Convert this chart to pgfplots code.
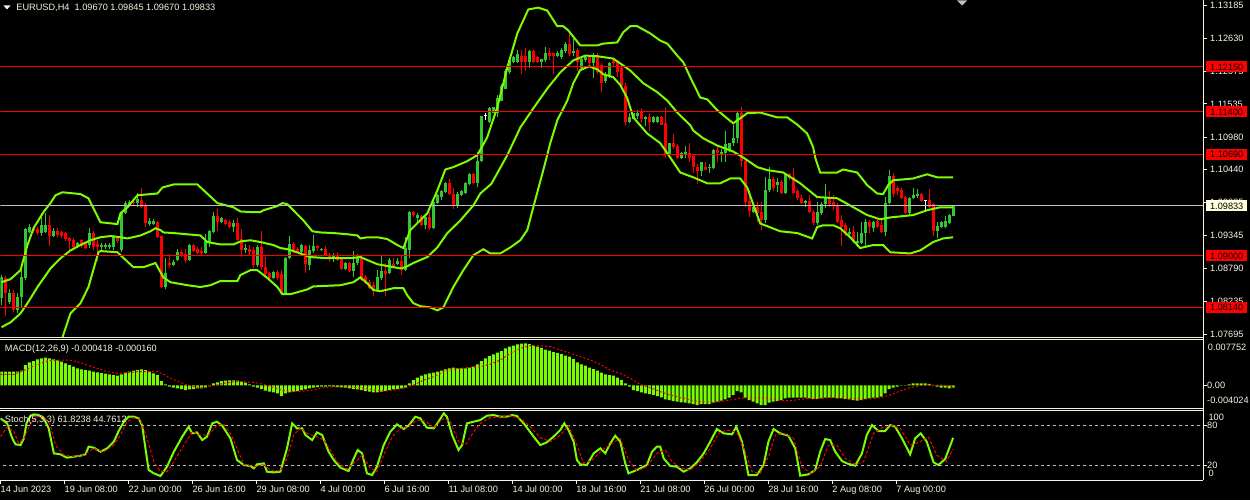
\documentclass[border=0pt]{standalone}
\usepackage{fontspec}
\setmainfont{Liberation Sans}
\usepackage{pgfplots}
\usepackage{pgfplotstable}
\pgfplotsset{compat=1.18}
\definecolor{cream}{RGB}{245,245,225}
\definecolor{upg}{RGB}{50,200,50}
\definecolor{lime}{RGB}{124,252,0}
\definecolor{gry}{RGB}{192,192,192}
\definecolor{ivory}{RGB}{255,255,224}
\newcommand\tf{\fontsize{9.2bp}{10bp}\selectfont}

\pgfplotstableread{
i t o h l c
0 1 1.0829 1.0868 1.0818 1.0864
1 -1 1.0863 1.0866 1.0799 1.0838
2 1 1.0823 1.0844 1.0819 1.0838
3 -1 1.0838 1.0843 1.0806 1.0809
4 1 1.0809 1.0838 1.0804 1.0831
5 1 1.0831 1.0881 1.0814 1.0864
6 1 1.0863 1.0946 1.0859 1.0944
7 1 1.0939 1.0953 1.0938 1.0948
8 -1 1.0946 1.0948 1.0938 1.0941
9 -1 1.0944 1.0948 1.0934 1.0938
10 1 1.0938 1.0971 1.0933 1.0951
11 1 1.0939 1.0971 1.0938 1.0951
12 -1 1.0951 1.0968 1.0916 1.0933
13 1 1.0933 1.0946 1.0931 1.0941
14 -1 1.0941 1.0946 1.0931 1.0934
15 -1 1.0939 1.0941 1.0929 1.0933
16 -1 1.0938 1.0939 1.0924 1.0928
17 -1 1.0929 1.0931 1.0906 1.0924
18 -1 1.0926 1.0929 1.0911 1.0914
19 1 1.0914 1.0923 1.0913 1.0921
20 -1 1.0926 1.0928 1.0913 1.0916
21 -1 1.0921 1.0923 1.0911 1.0913
22 1 1.0918 1.0946 1.0913 1.0938
23 -1 1.0938 1.0941 1.0909 1.0914
24 -1 1.0919 1.0926 1.0891 1.0914
25 1 1.0914 1.0921 1.0909 1.0918
26 1 1.0914 1.0921 1.0911 1.0918
27 1 1.0914 1.0921 1.0911 1.0918
28 1 1.0914 1.0934 1.0909 1.0933
29 -1 1.0929 1.0933 1.0921 1.0924
30 1 1.0909 1.0974 1.0907 1.0971
31 1 1.0971 1.0991 1.0969 1.0988
32 1 1.0984 1.0993 1.0981 1.0989
33 -1 1.0989 1.0991 1.0984 1.0988
34 1 1.0988 1.1004 1.0981 1.0994
35 -1 1.0993 1.1013 1.0979 1.0981
36 -1 1.0984 1.0988 1.0948 1.0954
37 1 1.0953 1.0963 1.0949 1.0958
38 1 1.0953 1.0961 1.0951 1.0958
39 -1 1.0956 1.0958 1.0929 1.0931
40 -1 1.0933 1.0934 1.0846 1.0848
41 1 1.0848 1.0896 1.0844 1.0871
42 -1 1.0888 1.0903 1.0879 1.0884
43 1 1.0884 1.0893 1.0883 1.0889
44 1 1.0893 1.0911 1.0891 1.0906
45 -1 1.0906 1.0909 1.0898 1.0899
46 -1 1.0903 1.0911 1.0888 1.0893
47 1 1.0893 1.0919 1.0891 1.0918
48 -1 1.0918 1.0919 1.0906 1.0908
49 -1 1.0911 1.0914 1.0903 1.0904
50 -1 1.0908 1.0914 1.0901 1.0904
51 1 1.0904 1.0936 1.0903 1.0924
52 1 1.0923 1.0943 1.0914 1.0941
53 1 1.0939 1.0973 1.0938 1.0966
54 -1 1.0966 1.0978 1.0941 1.0956
55 1 1.0956 1.0964 1.0954 1.0963
56 -1 1.0959 1.0961 1.0951 1.0953
57 -1 1.0956 1.0959 1.0946 1.0948
58 1 1.0948 1.0959 1.0939 1.0954
59 -1 1.0954 1.0963 1.0924 1.0926
60 -1 1.0928 1.0944 1.0898 1.0909
61 1 1.0909 1.0919 1.0904 1.0913
62 -1 1.0911 1.0918 1.0901 1.0906
63 -1 1.0909 1.0914 1.0879 1.0884
64 1 1.0884 1.0918 1.0881 1.0914
65 -1 1.0914 1.0941 1.0876 1.0881
66 -1 1.0881 1.0898 1.0863 1.0869
67 -1 1.0871 1.0873 1.0862 1.0863
68 1 1.0863 1.0874 1.0861 1.0873
69 -1 1.0873 1.0876 1.0859 1.0863
70 -1 1.0869 1.0876 1.0834 1.0836
71 1 1.0836 1.0898 1.0834 1.0896
72 1 1.0896 1.0933 1.0894 1.0919
73 -1 1.0919 1.0923 1.0904 1.0906
74 -1 1.0911 1.0914 1.0904 1.0906
75 1 1.0906 1.0919 1.0904 1.0918
76 -1 1.0916 1.0918 1.0871 1.0886
77 1 1.0884 1.0918 1.0876 1.0909
78 1 1.0908 1.0934 1.0904 1.0916
79 -1 1.0916 1.0918 1.0908 1.0913
80 1 1.0909 1.0913 1.0908 1.0911
81 -1 1.0911 1.0916 1.0899 1.0901
82 -1 1.0901 1.0904 1.0889 1.0894
83 1 1.0894 1.0904 1.0889 1.0899
84 -1 1.0899 1.0906 1.0891 1.0893
85 -1 1.0896 1.0898 1.0876 1.0878
86 1 1.0878 1.0889 1.0876 1.0888
87 -1 1.0888 1.0889 1.0873 1.0874
88 1 1.0874 1.0908 1.0864 1.0888
89 1 1.0888 1.0903 1.0884 1.0896
90 -1 1.0898 1.0899 1.0858 1.0859
91 -1 1.0864 1.0868 1.0853 1.0854
92 -1 1.0856 1.0859 1.0845 1.0846
93 -1 1.0851 1.0856 1.0833 1.0841
94 1 1.0841 1.0876 1.0839 1.0864
95 1 1.0863 1.0901 1.0859 1.0874
96 -1 1.0874 1.0888 1.0833 1.0869
97 1 1.0871 1.0896 1.0869 1.0893
98 -1 1.0886 1.0896 1.0881 1.0883
99 1 1.0886 1.0896 1.0884 1.0891
100 -1 1.0891 1.0899 1.0868 1.0876
101 1 1.0876 1.0931 1.0874 1.0913
102 1 1.0909 1.0975 1.0896 1.0973
103 -1 1.0973 1.0974 1.0964 1.0968
104 1 1.0963 1.0971 1.0956 1.0968
105 -1 1.0966 1.0968 1.0949 1.0951
106 1 1.0951 1.0968 1.0944 1.0964
107 -1 1.0964 1.0973 1.0943 1.0946
108 1 1.0946 1.0991 1.0944 1.0989
109 1 1.0988 1.1003 1.0986 1.1001
110 1 1.0998 1.1009 1.0993 1.1008
111 1 1.1006 1.1023 1.1004 1.1021
112 -1 1.1021 1.1028 1.1001 1.1003
113 -1 1.1003 1.1013 1.0978 1.0983
114 1 1.0983 1.1006 1.0979 1.1003
115 1 1.1001 1.1009 1.0999 1.1008
116 1 1.1004 1.1023 1.1003 1.1021
117 1 1.1019 1.1038 1.1018 1.1036
118 -1 1.1036 1.1038 1.1019 1.1021
119 1 1.1021 1.1073 1.1014 1.1059
120 1 1.1058 1.1134 1.1056 1.1133
121 0 1.1133 1.1138 1.1126 1.1134
122 1 1.1123 1.1148 1.1121 1.1146
123 1 1.1139 1.1149 1.1138 1.1148
124 1 1.1139 1.1168 1.1131 1.1164
125 1 1.1159 1.1186 1.1158 1.1184
126 1 1.1179 1.1211 1.1178 1.1209
127 1 1.1206 1.1228 1.1204 1.1226
128 1 1.1223 1.1233 1.1221 1.1231
129 1 1.1223 1.1244 1.1221 1.1236
130 -1 1.1234 1.1244 1.1204 1.1223
131 -1 1.1233 1.1246 1.1209 1.1224
132 1 1.1223 1.1244 1.1214 1.1241
133 -1 1.1241 1.1243 1.1221 1.1223
134 -1 1.1231 1.1233 1.1221 1.1223
135 1 1.1224 1.1229 1.1214 1.1228
136 1 1.1226 1.1249 1.1223 1.1238
137 -1 1.1239 1.1246 1.1226 1.1234
138 -1 1.1238 1.1239 1.1204 1.1233
139 1 1.1233 1.1241 1.1231 1.1239
140 1 1.1231 1.1246 1.1229 1.1244
141 1 1.1241 1.1256 1.1239 1.1254
142 -1 1.1254 1.1276 1.1234 1.1236
143 1 1.1238 1.1261 1.1234 1.1241
144 -1 1.1244 1.1246 1.1208 1.1223
145 1 1.1213 1.1231 1.1209 1.1229
146 1 1.1226 1.1233 1.1224 1.1231
147 -1 1.1231 1.1234 1.1216 1.1221
148 1 1.1221 1.1238 1.1196 1.1231
149 -1 1.1233 1.1239 1.1204 1.1206
150 -1 1.1218 1.1221 1.1173 1.1189
151 1 1.1191 1.1206 1.1189 1.1204
152 1 1.1198 1.1223 1.1196 1.1221
153 -1 1.1226 1.1229 1.1216 1.1221
154 -1 1.1223 1.1226 1.1198 1.1206
155 -1 1.1214 1.1218 1.1181 1.1183
156 -1 1.1183 1.1189 1.1118 1.1123
157 1 1.1123 1.1138 1.1121 1.1131
158 1 1.1129 1.1139 1.1128 1.1138
159 1 1.1134 1.1143 1.1129 1.1139
160 -1 1.1141 1.1146 1.1121 1.1128
161 1 1.1129 1.1134 1.1116 1.1131
162 -1 1.1131 1.1138 1.1109 1.1123
163 1 1.1123 1.1133 1.1121 1.1131
164 1 1.1123 1.1134 1.1121 1.1131
165 -1 1.1131 1.1133 1.1118 1.1119
166 -1 1.1121 1.1148 1.1064 1.1068
167 1 1.1068 1.1089 1.1066 1.1088
168 -1 1.1088 1.1104 1.1079 1.1081
169 -1 1.1083 1.1086 1.1061 1.1063
170 1 1.1063 1.1073 1.1061 1.1071
171 1 1.1068 1.1083 1.1064 1.1073
172 -1 1.1071 1.1088 1.1056 1.1064
173 -1 1.1066 1.1068 1.1038 1.1048
174 -1 1.1049 1.1054 1.1019 1.1041
175 1 1.1041 1.1057 1.1034 1.1056
176 -1 1.1049 1.1056 1.1043 1.1044
177 1 1.1046 1.1054 1.1038 1.1048
178 1 1.1046 1.1079 1.1045 1.1076
179 -1 1.1076 1.1084 1.1056 1.1071
180 1 1.1069 1.1079 1.1056 1.1073
181 1 1.1071 1.1108 1.1056 1.1086
182 1 1.1076 1.1089 1.1073 1.1088
183 1 1.1088 1.1118 1.1084 1.1096
184 1 1.1096 1.1141 1.1088 1.1139
185 -1 1.1139 1.1149 1.1048 1.1059
186 -1 1.1059 1.1063 1.0981 1.0989
187 -1 1.0991 1.1009 1.0964 1.0974
188 1 1.0973 1.0984 1.0971 1.0981
189 -1 1.0981 1.0989 1.0956 1.0971
190 -1 1.0973 1.0989 1.0943 1.0959
191 1 1.0959 1.1031 1.0954 1.1009
192 1 1.1009 1.1048 1.1006 1.1028
193 -1 1.1028 1.1031 1.1008 1.1013
194 1 1.1018 1.1029 1.1006 1.1023
195 -1 1.1023 1.1026 1.1003 1.1004
196 1 1.1004 1.1038 1.1003 1.1036
197 -1 1.1036 1.1039 1.1026 1.1029
198 -1 1.1031 1.1046 1.1003 1.1004
199 -1 1.1008 1.1011 1.0993 1.0996
200 -1 1.0996 1.1001 1.0986 1.0988
201 1 1.0988 1.0993 1.0981 1.0991
202 -1 1.0991 1.1001 1.0971 1.0973
203 -1 1.0973 1.0976 1.0951 1.0954
204 1 1.0954 1.0989 1.0952 1.0973
205 1 1.0971 1.0989 1.0968 1.0986
206 1 1.0986 1.1019 1.0979 1.0998
207 -1 1.0998 1.1008 1.0981 1.0986
208 -1 1.0989 1.1001 1.0976 1.0983
209 -1 1.0984 1.0988 1.0954 1.0956
210 -1 1.0959 1.0968 1.0916 1.0948
211 -1 1.0951 1.0954 1.0933 1.0936
212 1 1.0936 1.0946 1.0931 1.0939
213 -1 1.0939 1.0949 1.0921 1.0923
214 1 1.0921 1.0939 1.0914 1.0924
215 1 1.0921 1.0956 1.0919 1.0938
216 1 1.0938 1.0961 1.0914 1.0956
217 -1 1.0956 1.0959 1.0938 1.0948
218 1 1.0946 1.0958 1.0939 1.0956
219 -1 1.0958 1.0961 1.0946 1.0948
220 -1 1.0951 1.0959 1.0938 1.0939
221 1 1.0939 1.0998 1.0933 1.0988
222 1 1.0988 1.1043 1.0986 1.1034
223 -1 1.1034 1.1038 1.0998 1.1003
224 -1 1.1013 1.1016 1.1001 1.1008
225 -1 1.1009 1.1013 1.0994 1.0996
226 -1 1.0998 1.0999 1.0969 1.0971
227 1 1.0971 1.0998 1.0968 1.0996
228 1 1.0996 1.1013 1.0994 1.1001
229 1 1.0999 1.1011 1.0996 1.1003
230 -1 1.1003 1.1004 1.0989 1.0991
231 0 1.0991 1.0993 1.0974 1.0992
232 -1 1.0993 1.1011 1.0979 1.0981
233 -1 1.0986 1.0988 1.0933 1.0941
234 1 1.0941 1.0956 1.0929 1.0949
235 1 1.0948 1.0958 1.0946 1.0956
236 1 1.0948 1.0966 1.0946 1.0958
237 1 1.0954 1.0969 1.0953 1.0968
238 1 1.0967 1.09845 1.0967 1.09833
}\candles

\pgfplotsset{
  mt/.style={scale only axis, width=1203bp, xmin=-0.25, xmax=300.5,
    axis y line*=right, axis line style={draw=none},
    scaled y ticks=false, scaled x ticks=false,
    tick align=outside, major tick length=4bp,
    tick style={draw=cream, line width=0.8bp},
    yticklabel style={font=\tf, text=cream, inner sep=0pt, anchor=west},
    clip=true},
  wick/.style={draw=none, mark=none},
}

\begin{document}
\begin{tikzpicture}
\fill[black] (0bp,0bp) rectangle (1250bp,-500bp);

% ---------------- price panel ----------------
\begin{axis}[mt, axis x line=none, at={(0bp,0bp)}, anchor=north west, height=337bp,
  ymin=1.07640, ymax=1.13259,
  yticklabel style={xshift=3bp},
  ytick={1.13185,1.12630,1.12075,1.11535,1.10980,1.10440,1.09885,1.09345,1.08790,1.08235,1.07695},
  yticklabels={1.13185,1.12630,1.12075,1.11535,1.10980,1.10440,1.09885,1.09345,1.08790,1.08235,1.07695}]
% wicks
\addplot[wick, restrict expr to domain={\thisrow{t}}{0.5:1.5},
  error bars/.cd, y dir=plus, y explicit, error mark=none,
  error bar style={draw=upg, line width=1bp}]
  table[x=i, y=l, y error expr=\thisrow{h}-\thisrow{l}] {\candles};
\addplot[wick, restrict expr to domain={\thisrow{t}}{-1.5:-0.5},
  error bars/.cd, y dir=plus, y explicit, error mark=none,
  error bar style={draw=red, line width=1bp}]
  table[x=i, y=l, y error expr=\thisrow{h}-\thisrow{l}] {\candles};
\addplot[wick, restrict expr to domain={\thisrow{t}}{-0.5:0.5},
  error bars/.cd, y dir=plus, y explicit, error mark=none,
  error bar style={draw=white, line width=1bp}]
  table[x=i, y=l, y error expr=\thisrow{h}-\thisrow{l}] {\candles};
% bodies
\addplot[wick, restrict expr to domain={\thisrow{t}}{0.5:1.5},
  error bars/.cd, y dir=plus, y explicit, error mark=none,
  error bar style={draw=upg, line width=3bp}]
  table[x=i, y=o, y error expr={max(\thisrow{c}-\thisrow{o},0.00015)}] {\candles};
\addplot[wick, restrict expr to domain={\thisrow{t}}{-1.5:-0.5},
  error bars/.cd, y dir=plus, y explicit, error mark=none,
  error bar style={draw=red, line width=3bp}]
  table[x=i, y=c, y error expr={max(\thisrow{o}-\thisrow{c},0.00015)}] {\candles};
\addplot[wick, restrict expr to domain={\thisrow{t}}{-0.5:0.5},
  error bars/.cd, y dir=plus, y explicit, error mark=none,
  error bar style={draw=white, line width=3bp}]
  table[x=i, y=o, y error expr={max(\thisrow{c}-\thisrow{o},0.00015)}] {\candles};
% Bollinger upper
\addplot[lime, line width=2bp] coordinates {(0,1.0856) (2.25,1.0861) (4.75,1.0876) (6.5,1.0918) (8,1.0946) (10.5,1.0973) (12.25,1.0988) (13.5,1.1001) (15.25,1.1006) (19.75,1.1003) (21.75,1.0996) (24.75,1.0956) (29,1.0953) (29.75,1.0971) (31.5,1.0981) (34,1.1001) (39,1.1004) (40.25,1.1014) (43,1.1019) (49,1.1019) (54,1.0988) (58,1.0981) (59.75,1.0974) (62.25,1.0973) (64.75,1.0973) (65.5,1.0976) (69,1.0983) (70.25,1.0988) (71.5,1.0986) (73,1.0976) (75.5,1.0959) (77.75,1.0941) (79.75,1.0939) (83,1.0938) (86.5,1.0936) (89,1.0934) (89.75,1.0929) (91.5,1.0931) (94,1.0931) (96.5,1.0928) (99,1.0918) (100.5,1.0913) (102.25,1.0943) (106.5,1.0971) (109,1.1009) (111,1.1044) (113,1.1048) (116.5,1.1058) (119,1.1068) (121.5,1.1098) (124,1.1148) (126.5,1.1214) (129,1.1271) (131.75,1.1311) (134.25,1.1314) (136.5,1.1309) (139,1.1283) (140.5,1.1283) (141.75,1.1276) (144.75,1.1251) (149,1.1251) (150.5,1.1254) (154,1.1256) (155.5,1.1273) (157.25,1.1283) (159,1.1283) (162.25,1.1271) (164.75,1.1259) (166.5,1.1254) (169,1.1234) (170.5,1.1223) (172.25,1.1198) (174.75,1.1164) (176.5,1.1161) (179,1.1143) (183,1.1121) (186.5,1.1138) (189.75,1.1139) (194,1.1131) (196.5,1.1131) (199,1.1119) (201.5,1.1104) (203,1.1081) (203.5,1.1064) (204.75,1.1039) (209,1.1039) (210.5,1.1044) (214,1.1039) (216.5,1.1018) (219,1.1004) (220.5,1.1003) (221.75,1.1018) (223,1.1026) (228,1.1029) (231.5,1.1036) (234,1.1031) (238,1.1031)};
% Bollinger middle
\addplot[lime, line width=2bp] coordinates {(0,1.0781) (2.25,1.0789) (4.75,1.0804) (6.5,1.0821) (9,1.0848) (12.25,1.0879) (14.75,1.0896) (17.25,1.0909) (19.75,1.0918) (22.25,1.0926) (24.75,1.0931) (27.25,1.0933) (29.75,1.0931) (31.5,1.0929) (34.75,1.0934) (37.25,1.0941) (38.5,1.0946) (39.75,1.0943) (40.5,1.0939) (43,1.0938) (49.75,1.0934) (51.5,1.0923) (54.75,1.0919) (58,1.0919) (59.75,1.0924) (62.25,1.0926) (64.75,1.0923) (68,1.0918) (69.75,1.0913) (71.5,1.0911) (73,1.0908) (77.25,1.0898) (81.5,1.0896) (87.25,1.0896) (89.75,1.0898) (91.5,1.0893) (94,1.0886) (96.5,1.0883) (99.75,1.0879) (101,1.0881) (103,1.0888) (106.5,1.0898) (109,1.0914) (111.5,1.0938) (114.75,1.0959) (118,1.0984) (119.75,1.1004) (122.5,1.1020) (126.5,1.1068) (129.75,1.1114) (133,1.1146) (136.5,1.1179) (139.75,1.1206) (143,1.1226) (146,1.1234) (149,1.1233) (153,1.1229) (154.75,1.1221) (157.25,1.1209) (160.5,1.1188) (164,1.1173) (166.5,1.1159) (169,1.1139) (169.75,1.1134) (172.25,1.1118) (173,1.1109) (175.5,1.1096) (179,1.1084) (183,1.1074) (185.5,1.1064) (189,1.1048) (191.5,1.1043) (195.5,1.1039) (199.75,1.1021) (204,1.0998) (209,1.0996) (212.25,1.0984) (216.5,1.0968) (219.75,1.0961) (222.25,1.0964) (228,1.0968) (231.5,1.0976) (234.75,1.0981) (238,1.0981)};
% Bollinger lower
\addplot[lime, line width=2bp] coordinates {(13.5,1.0726) (15.25,1.0764) (17.25,1.0804) (19.75,1.0821) (21.75,1.0848) (23.5,1.0889) (24.25,1.0906) (24.75,1.0908) (29,1.0906) (30.25,1.0898) (33,1.0881) (35.5,1.0881) (38.5,1.0888) (39.25,1.0879) (40.5,1.0864) (42.25,1.0856) (46.5,1.0851) (49.75,1.0848) (52.25,1.0851) (54.75,1.0858) (59,1.0858) (59.75,1.0868) (62.25,1.0876) (64,1.0876) (66.5,1.0863) (69,1.0848) (70.25,1.0836) (72.25,1.0836) (76.5,1.0844) (78,1.0849) (84.75,1.0851) (88,1.0856) (89.75,1.0864) (91.5,1.0854) (93,1.0843) (94.75,1.0841) (98,1.0846) (100.5,1.0846) (101.5,1.0834) (103,1.0821) (104.75,1.0816) (107.25,1.0814) (109,1.0809) (110.5,1.0814) (113,1.0848) (115.5,1.0876) (118,1.0901) (120.5,1.0911) (122.25,1.0904) (124.75,1.0904) (127.25,1.0914) (129.75,1.0926) (131.5,1.0943) (133,1.0981) (135.5,1.1043) (137.25,1.1088) (139,1.1126) (141.5,1.1159) (143,1.1188) (144.75,1.1210) (147,1.1216) (149,1.1211) (150.5,1.1203) (153,1.1198) (154.75,1.1185) (156.5,1.1163) (158,1.1131) (161.5,1.1104) (164.75,1.1088) (167.25,1.1064) (169.75,1.1039) (173,1.1031) (176.5,1.1021) (179.75,1.1021) (182.25,1.1029) (184.75,1.1029) (186.5,1.1014) (189.75,1.0954) (194.75,1.0941) (199,1.0938) (202.75,1.0929) (204,1.0948) (205.5,1.0951) (208,1.0951) (209.75,1.0946) (212.25,1.0931) (214.75,1.0913) (218,1.0918) (220.5,1.0918) (222.25,1.0906) (227.25,1.0904) (229.75,1.0909) (233,1.0923) (235.5,1.0929) (238,1.0931)};
% horizontal lines
\addplot[red, line width=1bp] coordinates {(-1,1.12150) (302,1.12150)};
\addplot[red, line width=1bp] coordinates {(-1,1.11400) (302,1.11400)};
\addplot[red, line width=1bp] coordinates {(-1,1.10690) (302,1.10690)};
\addplot[red, line width=1bp] coordinates {(-1,1.09000) (302,1.09000)};
\addplot[red, line width=1bp] coordinates {(-1,1.08140) (302,1.08140)};
\addplot[gry, line width=1bp] coordinates {(-1,1.09833) (302,1.09833)};
\coordinate (b1) at (axis cs:300.5,1.12150);
\coordinate (b2) at (axis cs:300.5,1.11400);
\coordinate (b3) at (axis cs:300.5,1.10690);
\coordinate (b4) at (axis cs:300.5,1.09000);
\coordinate (b5) at (axis cs:300.5,1.08140);
\coordinate (bc) at (axis cs:300.5,1.09833);
\end{axis}

% ---------------- MACD panel ----------------
\begin{axis}[mt, axis x line=none, at={(0bp,-339.5bp)}, anchor=north west, height=68.5bp,
  ymin=-0.004245, ymax=0.008398, ytick={0}, yticklabels={0.00}]
\addplot[ybar, bar width=3bp, fill=lime, draw=none] coordinates {(0,0.00252) (1,0.00252) (2,0.00252) (3,0.00252) (4,0.00252) (5,0.00271) (6,0.00375) (7,0.00424) (8,0.00449) (9,0.00480) (10,0.00498) (11,0.00511) (12,0.00498) (13,0.00480) (14,0.00461) (15,0.00437) (16,0.00406) (17,0.00375) (18,0.00345) (19,0.00314) (20,0.00295) (21,0.00283) (22,0.00271) (23,0.00252) (24,0.00240) (25,0.00228) (26,0.00215) (27,0.00203) (28,0.00191) (29,0.00178) (30,0.00203) (31,0.00234) (32,0.00252) (33,0.00271) (34,0.00283) (35,0.00295) (36,0.00283) (37,0.00252) (38,0.00221) (39,0.00191) (40,0.00080) (41,0.00018) (42,-0.00025) (43,-0.00043) (44,-0.00055) (45,-0.00068) (46,-0.00086) (47,-0.00074) (48,-0.00068) (49,-0.00055) (50,-0.00055) (51,-0.00043) (52,-0.00006) (53,0.00037) (54,0.00055) (55,0.00080) (56,0.00086) (57,0.00092) (58,0.00092) (59,0.00086) (60,0.00068) (61,0.00049) (62,0.00018) (63,-0.00025) (64,-0.00043) (65,-0.00068) (66,-0.00098) (67,-0.00117) (68,-0.00129) (69,-0.00148) (70,-0.00197) (71,-0.00148) (72,-0.00129) (73,-0.00117) (74,-0.00105) (75,-0.00086) (76,-0.00074) (77,-0.00055) (78,-0.00043) (79,-0.00031) (80,-0.00025) (81,-0.00025) (82,-0.00018) (83,-0.00025) (84,-0.00031) (85,-0.00037) (86,-0.00043) (87,-0.00055) (88,-0.00068) (89,-0.00074) (90,-0.00086) (91,-0.00105) (92,-0.00117) (93,-0.00129) (94,-0.00129) (95,-0.00117) (96,-0.00105) (97,-0.00086) (98,-0.00074) (99,-0.00068) (100,-0.00055) (101,-0.00043) (102,0.00037) (103,0.00098) (104,0.00142) (105,0.00178) (106,0.00203) (107,0.00221) (108,0.00234) (109,0.00252) (110,0.00271) (111,0.00295) (112,0.00314) (113,0.00326) (114,0.00314) (115,0.00314) (116,0.00314) (117,0.00326) (118,0.00345) (119,0.00388) (120,0.00449) (121,0.00498) (122,0.00541) (123,0.00572) (124,0.00603) (125,0.00634) (126,0.00683) (127,0.00714) (128,0.00732) (129,0.00757) (130,0.00770) (131,0.00775) (132,0.00760) (133,0.00740) (134,0.00715) (135,0.00690) (136,0.00660) (137,0.00640) (138,0.00615) (139,0.00595) (140,0.00575) (141,0.00550) (142,0.00530) (143,0.00486) (144,0.00424) (145,0.00388) (146,0.00363) (147,0.00326) (148,0.00301) (149,0.00271) (150,0.00234) (151,0.00203) (152,0.00191) (153,0.00178) (154,0.00142) (155,0.00098) (156,0.00037) (157,-0.00025) (158,-0.00086) (159,-0.00105) (160,-0.00129) (161,-0.00148) (162,-0.00160) (163,-0.00178) (164,-0.00197) (165,-0.00221) (166,-0.00258) (167,-0.00271) (168,-0.00289) (169,-0.00301) (170,-0.00314) (171,-0.00320) (172,-0.00332) (173,-0.00345) (174,-0.00363) (175,-0.00345) (176,-0.00345) (177,-0.00345) (178,-0.00320) (179,-0.00301) (180,-0.00283) (181,-0.00258) (182,-0.00228) (183,-0.00178) (184,-0.00105) (185,-0.00129) (186,-0.00228) (187,-0.00271) (188,-0.00301) (189,-0.00332) (190,-0.00363) (191,-0.00363) (192,-0.00320) (193,-0.00301) (194,-0.00289) (195,-0.00271) (196,-0.00240) (197,-0.00228) (198,-0.00228) (199,-0.00228) (200,-0.00228) (201,-0.00228) (202,-0.00240) (203,-0.00252) (204,-0.00252) (205,-0.00240) (206,-0.00228) (207,-0.00228) (208,-0.00228) (209,-0.00240) (210,-0.00240) (211,-0.00252) (212,-0.00258) (213,-0.00271) (214,-0.00283) (215,-0.00271) (216,-0.00252) (217,-0.00240) (218,-0.00228) (219,-0.00228) (220,-0.00209) (221,-0.00148) (222,-0.00068) (223,-0.00043) (224,-0.00025) (225,0.00006) (226,0.00003) (227,0.00018) (228,0.00037) (229,0.00037) (230,0.00037) (231,0.00037) (232,0.00025) (233,0.00003) (234,-0.00025) (235,-0.00043) (236,-0.00043) (237,-0.00055) (238,-0.00042)};
\addplot[red, line width=1bp, dash pattern=on 2bp off 2bp] coordinates {(-0.25,0.00203) (3.1,0.00203) (6.4,0.00301) (8.9,0.00388) (11.4,0.00449) (13.9,0.00468) (16.4,0.00468) (18.9,0.00437) (21.4,0.00375) (23.9,0.00314) (26.4,0.00252) (28.9,0.00221) (31.4,0.00234) (33.9,0.00252) (36.4,0.00252) (38.9,0.00252) (40.6,0.00203) (42.25,0.00129) (44.75,0.00055) (46.4,0.00006) (48.1,-0.00025) (50.6,-0.00043) (53.1,-0.00006) (55.6,0.00037) (58.1,0.00068) (60.6,0.00068) (63.1,0.00055) (65.6,0.00018) (68.1,-0.00043) (70.6,-0.00098) (73.1,-0.00117) (75.6,-0.00105) (78.1,-0.00086) (80.6,-0.00043) (83.1,-0.00025) (85.6,-0.00025) (88.1,-0.00037) (90.6,-0.00055) (93.1,-0.00086) (95.6,-0.00105) (98.1,-0.00086) (100.6,-0.00055) (103.1,0.00006) (105.6,0.00098) (108.1,0.00160) (110.6,0.00252) (113.1,0.00301) (116.4,0.00326) (119.75,0.00345) (122.25,0.00388) (124.75,0.00468) (127.25,0.00591) (129.75,0.00683) (132.25,0.00732) (134.75,0.00732) (137.25,0.00714) (139.75,0.00652) (142.25,0.00591) (144.75,0.00529) (147.25,0.00468) (149.75,0.00388) (152.25,0.00283) (154.75,0.00221) (157.25,0.00129) (159.75,0.00018) (162.25,-0.00043) (164.75,-0.00117) (167.25,-0.00178) (169.75,-0.00228) (172.25,-0.00271) (174.75,-0.00301) (177.25,-0.00314) (179.75,-0.00301) (182.25,-0.00271) (184.75,-0.00240) (187.25,-0.00228) (189.75,-0.00228) (192.25,-0.00252) (194.75,-0.00283) (197.25,-0.00283) (199.75,-0.00258) (202.25,-0.00240) (204.75,-0.00240) (207.25,-0.00228) (209.75,-0.00228) (212.25,-0.00240) (214.75,-0.00252) (217.25,-0.00252) (219.75,-0.00228) (222.25,-0.00178) (224.75,-0.00105) (227.25,-0.00043) (229.75,-0.00006) (232.25,0.00006) (234.75,0.00006) (237.25,-0.00006) (238,-0.00016)};
\end{axis}

% ---------------- Stochastic panel ----------------
\begin{axis}[mt, at={(0bp,-410.3bp)}, anchor=north west, height=69.4bp,
  ymin=-1.5, ymax=102.6, ytick={20,80}, yticklabels={20,80},
  axis x line*=bottom,
  xtick={-0.25,15.75,31.75,47.75,63.75,79.75,95.75,111.75,127.75,143.75,159.75,175.75,191.75,207.75,223.75},
  xticklabels={14 Jun 2023,19 Jun 08:00,22 Jun 00:00,26 Jun 16:00,29 Jun 08:00,4 Jul 00:00,6 Jul 16:00,11 Jul 08:00,14 Jul 00:00,18 Jul 16:00,21 Jul 08:00,26 Jul 00:00,28 Jul 16:00,2 Aug 08:00,7 Aug 00:00},
  xticklabel style={font=\tf, text=cream, inner sep=0pt, anchor=north west, yshift=-1.5bp}]
\addplot[gry, line width=0.8bp, dash pattern=on 3bp off 3bp] coordinates {(-1,80) (302,80)};
\addplot[gry, line width=0.8bp, dash pattern=on 3bp off 3bp] coordinates {(-1,20) (302,20)};
\addplot[lime, line width=2bp] coordinates {(-0.25,91) (1.4,83.5) (2.7,61) (3.5,52) (4.75,51) (5.6,61) (6.25,83.5) (7.25,95) (8.1,97) (9.3,96) (10.6,91) (11.8,76) (13.1,38.5) (14.75,37) (16.4,32) (18.1,33.5) (19.75,35) (21,37) (21.8,48.5) (23.1,47) (24.75,41) (26.4,46) (28.1,56) (29.3,72) (30.6,86) (31.8,93.5) (33.1,93.5) (34.3,91) (35.2,80) (36,46) (36.8,13.5) (38.1,8.5) (39.75,4.5) (41.4,18.5) (43.1,41) (45.2,63.5) (46.8,78.5) (47.7,68.5) (48.9,70) (50.2,58.5) (51.4,63.5) (52.7,83.5) (53.9,86) (55.2,80) (57.25,61) (58.9,28.5) (60.6,21) (62.25,19.5) (63.1,16) (63.9,22) (65.6,23.5) (66.4,11) (68.1,10) (69.75,11) (71.4,46) (72.7,83.5) (73.9,76) (75.2,76) (76,66) (77.7,58.5) (78.9,70) (80.2,66) (81.8,41) (83.1,28.5) (84.75,17) (86.8,12) (88.1,31) (89.1,43.5) (90.2,38.5) (91.4,8.5) (92.7,6) (93.9,18.5) (95.6,51) (97.25,71) (98.9,82) (100.6,75) (101.8,80) (103.5,93.5) (104.75,91) (106.4,77) (108.1,76) (109.3,86) (110.6,98.5) (111.4,93.5) (112.7,66) (114.3,43.5) (115.2,51) (116.4,83.5) (118.1,86) (119.75,88.5) (121.4,95) (123.1,96) (124.75,93.5) (126.4,93.5) (127.7,96) (128.9,94.5) (130.6,83.5) (133.1,63.5) (134.75,51) (136.4,55) (138.5,66) (139.75,73.5) (140.75,83.5) (141.8,73.5) (143.1,56) (143.9,28.5) (144.75,22) (146.4,21) (148.1,38.5) (149.75,46) (151,38.5) (152.25,53.5) (153.5,65) (154.75,56) (156,23.5) (156.8,8.5) (158.9,13.5) (161.4,21) (162.7,41) (163.9,48.5) (164.75,48.5) (165.6,31) (167.25,19.5) (168.9,18.5) (170.6,11) (172.25,16) (173.9,25) (175.6,38.5) (177.25,56) (178.9,75) (180.6,68.5) (182.7,67) (183.75,78.5) (185.2,56) (186.8,6) (188.9,6) (190.6,21) (191.8,56) (193.1,75) (194.75,68.5) (196.8,65) (198.5,46) (199.75,5) (201.8,7) (203.5,13.5) (204.75,41) (206,60) (207.25,58.5) (208.5,41) (210.2,27) (211.4,23.5) (213.5,20) (215.2,38.5) (216.4,66) (217.7,81) (219.3,72) (221,72) (222.25,81) (223.5,78.5) (225.2,61) (227.25,37) (228.5,61) (229.9,68.5) (231.4,56) (233.1,25) (234.3,21) (236,30) (238,61.8)};
\addplot[red, line width=1bp, dash pattern=on 3bp off 2bp] coordinates {(-0.25,63.5) (1.4,78.5) (3.1,71) (4.3,53.5) (5.6,61) (7.25,83.5) (8.9,93.5) (10.6,93.5) (12.25,81) (13.5,51) (15.6,36) (18.1,33.5) (20.6,36) (23.1,46) (25.6,41) (28.1,51) (29.75,66) (31.4,86) (33.1,92) (34.75,88.5) (36.4,61) (38.1,26) (39.75,11) (41.4,11) (43.1,26) (45.6,51) (47.7,71) (49.75,66) (51.8,66) (53.9,81) (55.6,82) (57.25,68.5) (58.9,46) (60.6,22) (63.1,18.5) (65.6,21) (67.25,13.5) (69.75,12) (71.4,31) (73.1,66) (74.75,77) (76.4,68.5) (78.9,63.5) (80.6,58.5) (82.25,43.5) (83.9,26) (86.4,15) (88.5,26) (90.2,36) (92.25,16) (93.9,11) (95.6,36) (97.7,63.5) (99.75,76) (101.4,77) (103.9,88.5) (106,87) (108.1,77) (110.6,91) (112.25,86) (114.3,56) (116,51) (118.1,71) (119.75,83.5) (122.25,92) (124.75,93.5) (127.25,95) (129.75,91) (132.25,78.5) (134.75,62) (137.25,56) (139.75,66) (141.8,80) (143.9,51) (145.6,23.5) (147.7,28.5) (150.2,43.5) (152.7,53.5) (154.75,61) (156.8,28.5) (158.9,12) (161.4,18.5) (163.9,38.5) (166,43.5) (167.7,26) (169.75,17) (172.25,13.5) (174.75,26) (177.25,46) (179.3,68.5) (181.4,73.5) (183.9,70) (186,41) (187.7,11) (189.75,8.5) (191.8,33.5) (193.5,66) (195.6,68.5) (198.1,61) (200.2,18.5) (202.25,8.5) (204.75,18.5) (206.8,51) (208.9,51) (211,31) (213.5,22) (215.6,26) (218.1,68.5) (220.2,77) (222.75,80) (224.75,76) (227.25,51) (229.75,56) (231.8,63.5) (233.9,36) (236.25,26) (238,44.8)};
\end{axis}

% frame lines
\draw[cream, line width=1bp] (1203bp,0bp) -- (1203bp,-479.7bp);
\foreach \yy in {337,339.5,408,410.3,479.7} \draw[cream, line width=1bp] (0bp,-\yy bp) -- (1203bp,-\yy bp);

% price boxes
\foreach \c/\v in {b1/1.12150,b2/1.11400,b3/1.10690,b4/1.09000,b5/1.08140}
  \node[fill=red, text=black, font=\tf, inner sep=0pt, minimum height=11bp, minimum width=41bp, anchor=west] at ([xshift=3bp]\c) {\v};
\node[fill=ivory, text=black, font=\tf, inner sep=0pt, minimum height=11bp, minimum width=41bp, anchor=west] at ([xshift=3bp]bc) {1.09833};

% sub-window scale labels
\node[anchor=west, font=\tf, text=cream, inner sep=0pt] at (1207.7bp,-346.7bp) {0.007752};
\node[anchor=west, font=\tf, text=cream, inner sep=0pt] at (1207bp,-400bp) {-0.004024};
\node[anchor=west, font=\tf, text=cream, inner sep=0pt] at (1208.3bp,-417.3bp) {100};
\node[anchor=west, font=\tf, text=cream, inner sep=0pt] at (1208.3bp,-472.7bp) {0};

% titles
\fill[cream] (3bp,-5bp) -- (10bp,-5bp) -- (6.5bp,-9bp) -- cycle;
\node[anchor=west, font=\tf, text=cream, inner sep=0pt] at (15.7bp,-7.3bp) {EURUSD,H4\ \ 1.09670 1.09845 1.09670 1.09833};
\node[anchor=west, font=\tf, text=cream, inner sep=0pt] at (4.3bp,-349bp) {MACD(12,26,9) -0.000418 -0.000160};
\node[anchor=west, font=\tf, text=cream, inner sep=0pt] at (4.3bp,-419.7bp) {Stoch(5,3,3) 61.8238 44.7612};
\fill[gry] (957bp,0bp) -- (967bp,0bp) -- (962bp,-5bp) -- cycle;
\end{tikzpicture}
\end{document}
